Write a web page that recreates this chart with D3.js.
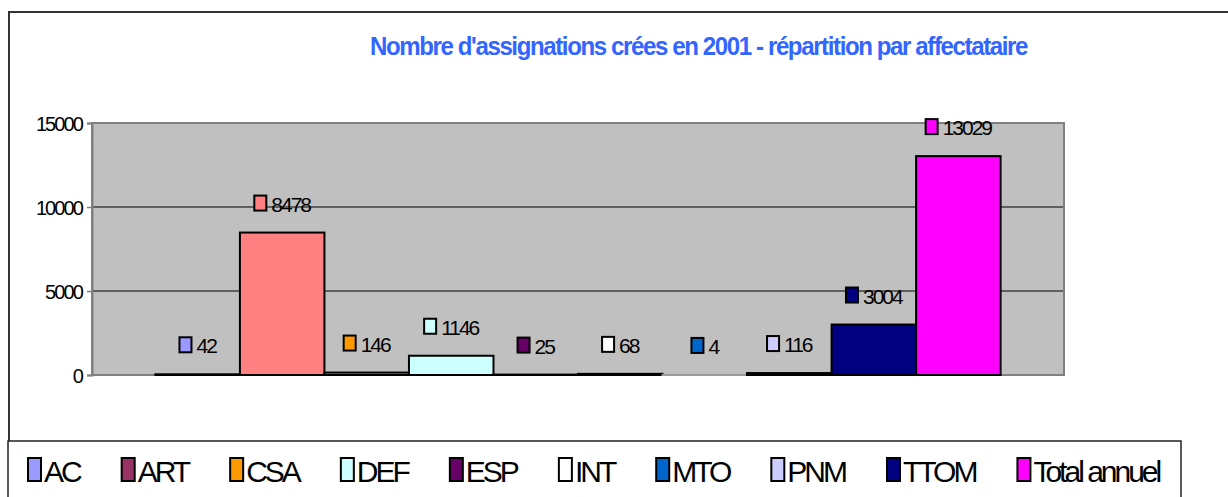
<!DOCTYPE html>
<html>
<head>
<meta charset="utf-8">
<script src="https://cdn.jsdelivr.net/npm/d3@7"></script>
<style>
  body { margin: 0; background: #fff; }
  text { font-family: "Liberation Sans", Arial, sans-serif; }
</style>
</head>
<body>
<div id="chart"></div>
<script>
// data
let seriesNames = ['AC', 'ART', 'CSA', 'DEF', 'ESP', 'INT', 'MTO', 'PNM', 'TTOM', 'Total annuel'];
let seriesValues = [42, 8478, 146, 1146, 25, 68, 4, 116, 3004, 13029];
let legendColors = ['#9999FF', '#993366', '#FF9900', '#CCFFFF', '#660066', '#FFFFFF', '#0066CC', '#CCCCFF', '#000080', '#FF00FF'];
let barColors = ['#9999FF', '#FF8080', '#FF9900', '#CCFFFF', '#660066', '#FFFFFF', '#0066CC', '#CCCCFF', '#000080', '#FF00FF'];
let yTicks = [0, 5000, 10000, 15000];
let categories = ['2001'];
let chartTitle = "Nombre d'assignations crées en 2001 - répartition par affectataire";

const W = 1228, H = 497;
const mg = {top: 123, right: 164, bottom: 122, left: 92};
const wd = W - mg.left - mg.right;
const ht = H - mg.top - mg.bottom;

const svgRoot = d3.select('#chart').append('svg')
    .attr('width', W)
    .attr('height', H);

// chart area border (cut off at right/bottom)
svgRoot.append('rect')
    .attr('x', 9).attr('y', 12)
    .attr('width', 1300).attr('height', 600)
    .attr('fill', 'none')
    .attr('stroke', '#333')
    .attr('stroke-width', 2);

svgRoot.append('text')
    .attr('x', 370).attr('y', 55)
    .attr('textLength', 657)
    .attr('lengthAdjust', 'spacingAndGlyphs')
    .attr('font-size', 26)
    .attr('font-weight', 'bold')
    .attr('letter-spacing', '-1.5px')
    .attr('fill', '#3366FF')
    .text(chartTitle);

const svg = svgRoot.append('g')
    .attr('transform', 'translate(' + mg.left + ',' + mg.top + ')');

const x0 = d3.scaleBand().domain(categories).range([0, wd]).paddingOuter(0.075).paddingInner(0);
const x1 = d3.scaleBand().domain(seriesNames).range([0, x0.bandwidth()]).padding(0);
const y = d3.scaleLinear().domain([0, 15000]).range([ht, 0]);

// plot area
svg.append('rect')
    .attr('width', wd).attr('height', ht)
    .attr('fill', '#C0C0C0');

svg.selectAll('.grid').data(yTicks.filter(d => d > 0 && d < 15000))
    .enter().append('line')
    .attr('x1', 0).attr('x2', wd)
    .attr('y1', d => y(d)).attr('y2', d => y(d))
    .attr('stroke', '#000').attr('stroke-width', 1);

svg.append('rect')
    .attr('width', wd).attr('height', ht)
    .attr('fill', 'none')
    .attr('stroke', '#808080').attr('stroke-width', 2);

// y axis
const yAxis = svg.append('g')
    .call(d3.axisLeft(y).tickValues(yTicks).tickSize(5).tickPadding(5).tickFormat(d3.format('d')));
yAxis.select('.domain').attr('stroke', '#808080').attr('stroke-width', 2);
yAxis.selectAll('.tick line').attr('stroke', '#808080').attr('stroke-width', 1.5);
yAxis.selectAll('.tick text')
    .attr('font-size', 20)
    .attr('letter-spacing', '-1.9px')
    .attr('fill', '#000')
    .attr('dy', '0.35em');

const rows = seriesNames.map((s, i) => ({name: s, value: seriesValues[i], fill: barColors[i]}));

const grp = svg.append('g').attr('transform', 'translate(' + x0('2001') + ',0)');

grp.selectAll('.bar').data(rows).enter().append('rect')
    .attr('class', 'bar')
    .attr('x', d => x1(d.name))
    .attr('y', d => y(d.value))
    .attr('width', x1.bandwidth())
    .attr('height', d => ht - y(d.value))
    .attr('fill', d => d.fill)
    .attr('stroke', d => d.value > 10 ? '#000' : '#999')
    .attr('stroke-width', 2);

// value labels with key square
const lab = grp.selectAll('.lab').data(rows).enter().append('g')
    .attr('class', 'lab');
lab.append('text')
    .attr('font-size', 21)
    .attr('letter-spacing', '-2px')
    .attr('fill', '#000')
    .text(d => d.value);
lab.each(function(d) {
    let g = d3.select(this);
    let tw = g.select('text').node().getComputedTextLength();
    let total = 13 + 4 + tw;
    let cx = x1(d.name) + x1.bandwidth() / 2;
    let cy = y(d.value) - 29;
    let left = cx - total / 2;
    g.insert('rect', 'text')
        .attr('x', left).attr('y', cy - 8)
        .attr('width', 12).attr('height', 15)
        .attr('fill', d.fill)
        .attr('stroke', '#000').attr('stroke-width', 2);
    g.select('text').attr('x', left + 17).attr('y', cy + 8);
});

// legend
svgRoot.append('rect')
    .attr('x', 8).attr('y', 441)
    .attr('width', 1173).attr('height', 100)
    .attr('fill', '#fff')
    .attr('stroke', '#222').attr('stroke-width', 1.5);

let lx = 28;
seriesNames.forEach((s, i) => {
    let item = svgRoot.append('g');
    item.append('rect')
        .attr('x', lx).attr('y', 458)
        .attr('width', 13).attr('height', 23)
        .attr('fill', legendColors[i])
        .attr('stroke', '#000').attr('stroke-width', 2);
    let t = item.append('text')
        .attr('x', lx + 16).attr('y', 482)
        .attr('font-size', 30)
        .attr('letter-spacing', '-3px')
        .attr('fill', '#000')
        .text(s);
    lx += 16 + t.node().getComputedTextLength() + 42;
});
</script>
</body>
</html>
